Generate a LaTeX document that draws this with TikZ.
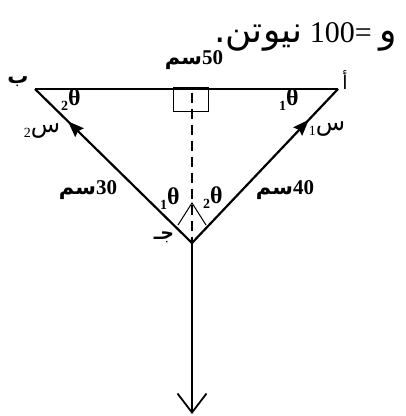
\documentclass[tikz,border=0pt]{standalone}
\usepackage{fontspec}
\setmainfont{Liberation Serif}
\newfontfamily\arabicfont[Script=Arabic]{DejaVu Sans}
\TeXXeTstate=1
\usetikzlibrary{arrows.meta,decorations.markings}
\newcommand{\subl}[1]{\raisebox{-0.45ex}{\fontsize{14}{14}\selectfont #1}}
\begin{document}
\begin{tikzpicture}[x=1pt,y=1pt,
  heavy/.style={line width=2.2pt},
  topline/.style={line width=1.5pt},
  thin/.style={line width=1pt},
  dashline/.style={line width=2.6pt, dash pattern=on 10pt off 6pt},
  lbl/.style={inner sep=0pt, font=\fontsize{21}{22}\selectfont\bfseries},
  thlbl/.style={inner sep=0pt, font=\fontsize{24}{26}\selectfont\bfseries},
  slbl/.style={inner sep=0pt, font=\fontsize{24}{26}\selectfont},
  midarrow/.style={postaction={decorate},
    decoration={markings, mark=at position #1 with {\arrow{Stealth[length=16pt,width=12pt,inset=2pt]}}}}
]
\useasboundingbox (0,0) rectangle (406,416);
% points
\coordinate (B) at (35,327);
\coordinate (A) at (338,327);
\coordinate (C) at (192,173);
\coordinate (D) at (192,323);
\coordinate (W) at (192,2);
% top line and box
\draw[topline] (B) -- (A);
\node[draw, thin, minimum width=35pt, minimum height=24pt, inner sep=0pt, anchor=north] (box) at (190.5,328.5) {};
\draw[dashline] (D) -- (C);
% strings
\draw[heavy, midarrow=0.79] (C) -- (B);
\draw[heavy, midarrow=0.80] (C) -- (A);
% weight
\draw[heavy, -{Straight Barb[length=19pt,width=29pt,line width=1.8pt]}] (C) -- (W);
% angle caret
\draw[thin] (178,191) -- (192,213) -- (206,191);
% title
\node[anchor=base east, inner sep=0pt, font=\fontsize{30}{32}\selectfont] (title) at (397,373)
  {{\arabicfont\fontsize{36}{38}\selectfont\beginR نيوتن.\endR}\ 100=\ {\arabicfont\fontsize{36}{38}\selectfont\beginR و\endR}};
% labels
\node[lbl] (lb) at (18,334) {\arabicfont\beginR ب\endR};
\node[lbl, font=\fontsize{19}{20}\selectfont] (la) at (345,336) {\arabicfont\beginR أ\endR};
\node[lbl] (l50) at (194,356) {{\arabicfont\beginR سم\endR}50};
\node[lbl] (l30) at (88,226) {{\arabicfont\beginR سم\endR}30};
\node[lbl] (l40) at (285,226) {{\arabicfont\beginR سم\endR}40};
\node[lbl, font=\fontsize{19}{20}\selectfont\bfseries] (lj) at (164,179) {\arabicfont\beginR جـ\endR};
% thetas
\node[thlbl] (tB) at (71,316) {\subl{2}θ};
\node[thlbl] (tA) at (289,316) {\subl{1}θ};
\node[thlbl] (tC1) at (170,217) {\subl{1}θ};
\node[thlbl] (tC2) at (213,218) {\subl{2}θ};
% tensions
\node[slbl] (s2) at (42,285) {\subl{2}{\arabicfont\beginR س\endR}};
\node[slbl] (s1) at (327,287) {\subl{1}{\arabicfont\beginR س\endR}};
\end{tikzpicture}
\end{document}
